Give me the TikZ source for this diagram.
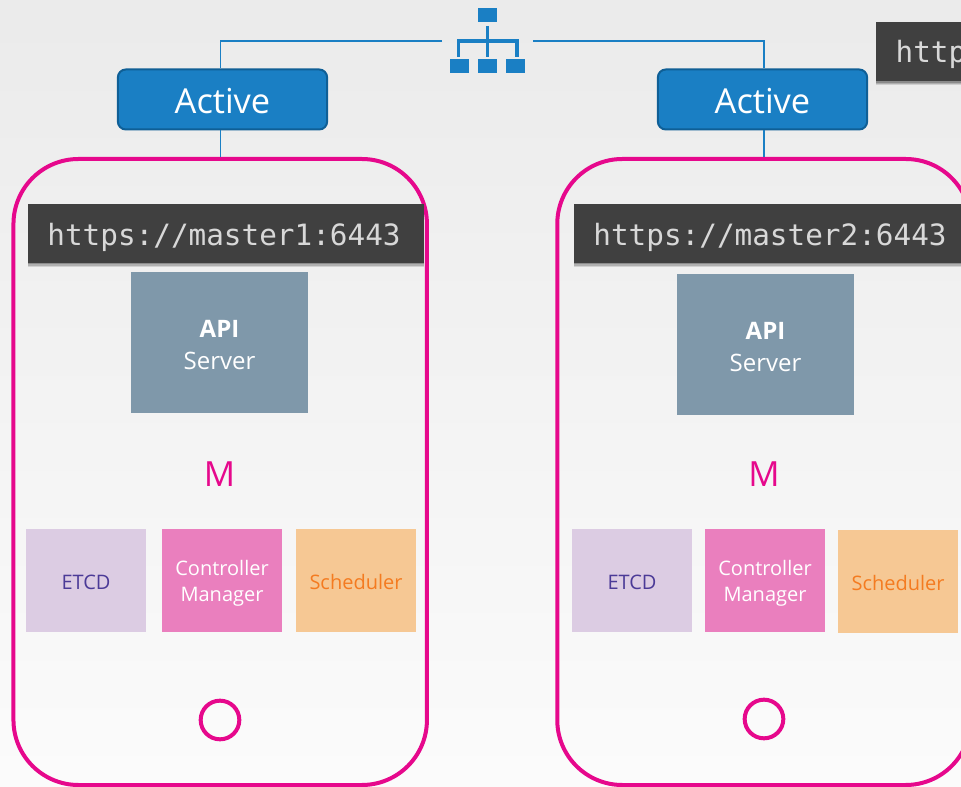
\documentclass[tikz,border=0pt]{standalone}
\usepackage{fontspec}
\setmainfont{Open Sans}
\newfontfamily\codefont{DejaVu Sans Mono}
\usetikzlibrary{shadows}
\newcommand{\lowered}[2]{\raisebox{-#1}[\height][\depth]{#2}}
\definecolor{phonepink}{HTML}{E6088C}
\definecolor{lbblue}{HTML}{1A7FC4}
\definecolor{lbedge}{HTML}{0F5F96}
\definecolor{codebg}{HTML}{404040}
\definecolor{codefg}{HTML}{D8D8D8}
\definecolor{apifill}{HTML}{7F98AA}
\definecolor{etcdfill}{HTML}{DCCCE3}
\definecolor{etcdtext}{HTML}{4B3A97}
\definecolor{cmfill}{HTML}{EA7FBE}
\definecolor{schedfill}{HTML}{F6C894}
\definecolor{schedtext}{HTML}{F47B20}
\tikzset{
  phonebox/.style={draw=phonepink,line width=3pt,rounded corners=48.75pt,minimum width=310.1pt,minimum height=469.5pt,inner sep=0pt},
  activebox/.style={draw=lbedge,line width=1.5pt,fill=lbblue,rounded corners=6pt,minimum width=157pt,minimum height=45pt,inner sep=0pt,text=white,font=\fontsize{25.8pt}{30pt}\selectfont},
  softshadow/.style={
    drop shadow={shadow xshift=0pt,shadow yshift=-3pt,opacity=.12,fill=black},
    drop shadow={shadow xshift=0pt,shadow yshift=-2pt,opacity=.16,fill=black},
    drop shadow={shadow xshift=0pt,shadow yshift=-1pt,opacity=.2,fill=black}},
  codebox/.style={fill=codebg,text=codefg,inner sep=0pt,minimum height=44.25pt,softshadow,font=\codefont\fontsize{22pt}{26pt}\selectfont},
  apibox/.style={fill=apifill,text=white,minimum width=132.75pt,minimum height=105.75pt,inner sep=0pt,align=center,font=\fontsize{18pt}{24pt}\selectfont},
  smallbox/.style={minimum width=90pt,minimum height=77.25pt,inner sep=0pt,align=center,font=\fontsize{15pt}{19.5pt}\selectfont},
  etcdbox/.style={smallbox,fill=etcdfill,text=etcdtext},
  cmbox/.style={smallbox,fill=cmfill,text=white},
  schedbox/.style={smallbox,fill=schedfill,text=schedtext},
  mlabel/.style={text=phonepink,inner sep=0pt,font=\fontsize{26pt}{30pt}\selectfont},
  homebtn/.style={circle,draw=phonepink,line width=3pt,minimum size=29pt,inner sep=0pt},
  linkline/.style={draw=lbblue,line width=0.8pt},
  hubsq/.style={fill=lbblue,minimum width=14pt,minimum height=10.5pt,inner sep=0pt},
  hubline/.style={draw=lbblue,line width=2.6pt}
}
\begin{document}
\begin{tikzpicture}[x=0.75pt,y=-0.75pt]
\useasboundingbox (0,0) rectangle (961,787);
\clip (0,0) rectangle (961,787);
\shade[top color=black!8,bottom color=black!1.5] (0,0) rectangle (961,787);
% phones
\node[phonebox] (phone1) at (220.2,472) {};
\node[phonebox] (phone2) at (764,472) {};
% load balancer icon
\node[hubsq] (hubtop) at (487.5,15) {};
\node[hubsq] (hubl) at (459.5,66) {};
\node[hubsq] (hubm) at (487.5,66) {};
\node[hubsq] (hubr) at (515.5,66) {};
\coordinate (hubw) at (442,41);
\coordinate (hube) at (533,41);
\coordinate (hubc) at (487.5,41);
\draw[hubline] (487.5,26) -- (hubc) -- (487.5,57);
\draw[hubline] (458.5,57) -- (458.5,41) -- (517,41) -- (517,57);
% active boxes
\node[activebox] (active1) at (222.5,99.5) {\lowered{1.5pt}{Active}};
\node[activebox] (active2) at (762.5,99.5) {\lowered{1.5pt}{Active}};
\draw[linkline] (hubw) -| (active1.north -| phone1.north);
\draw[linkline] (hube) -| (active2.north -| phone2.north);
\draw[linkline] (active1.south -| phone1.north) -- (phone1.north);
\draw[linkline] (active2.south -| phone2.north) -- (phone2.north);
% code boxes
\node[codebox,minimum width=297pt] (url1) at (226,233.5) {\lowered{3pt}{https://master1:6443}\hspace*{3pt}};
\node[codebox,minimum width=297pt] (url2) at (772,233.5) {\lowered{3pt}{https://master2:6443}\hspace*{3pt}};
\node[codebox,anchor=west,minimum width=100pt,text width=100pt,align=left] (url3) at (876,52) {\hspace*{14.5pt}\lowered{1.5pt}{http}};
% API servers
\node[apibox] (api1) at (219.5,342.5) {\rule{0pt}{17.4pt}\textbf{API}\\Server};
\node[apibox] (api2) at (765.5,345) {\rule{0pt}{16.4pt}\textbf{API}\\Server};
% masters
\node[mlabel] (m1) at (219.5,474) {M};
\node[mlabel] (m2) at (764,474) {M};
% components
\node[etcdbox] (etcd1) at (86,580.5) {\lowered{1.5pt}{ETCD}};
\node[cmbox] (cm1) at (222,580.5) {\rule{0pt}{15.9pt}Controller\\Manager};
\node[schedbox] (sched1) at (356,580.5) {\lowered{1.5pt}{Scheduler}};
\node[etcdbox] (etcd2) at (632,580.5) {\lowered{1.5pt}{ETCD}};
\node[cmbox] (cm2) at (765,580.5) {\rule{0pt}{15.9pt}Controller\\Manager};
\node[schedbox] (sched2) at (898,581.5) {\lowered{1.5pt}{Scheduler}};
% home buttons
\node[homebtn] (home1) at (220,720) {};
\node[homebtn] (home2) at (764,719) {};
\end{tikzpicture}
\end{document}
